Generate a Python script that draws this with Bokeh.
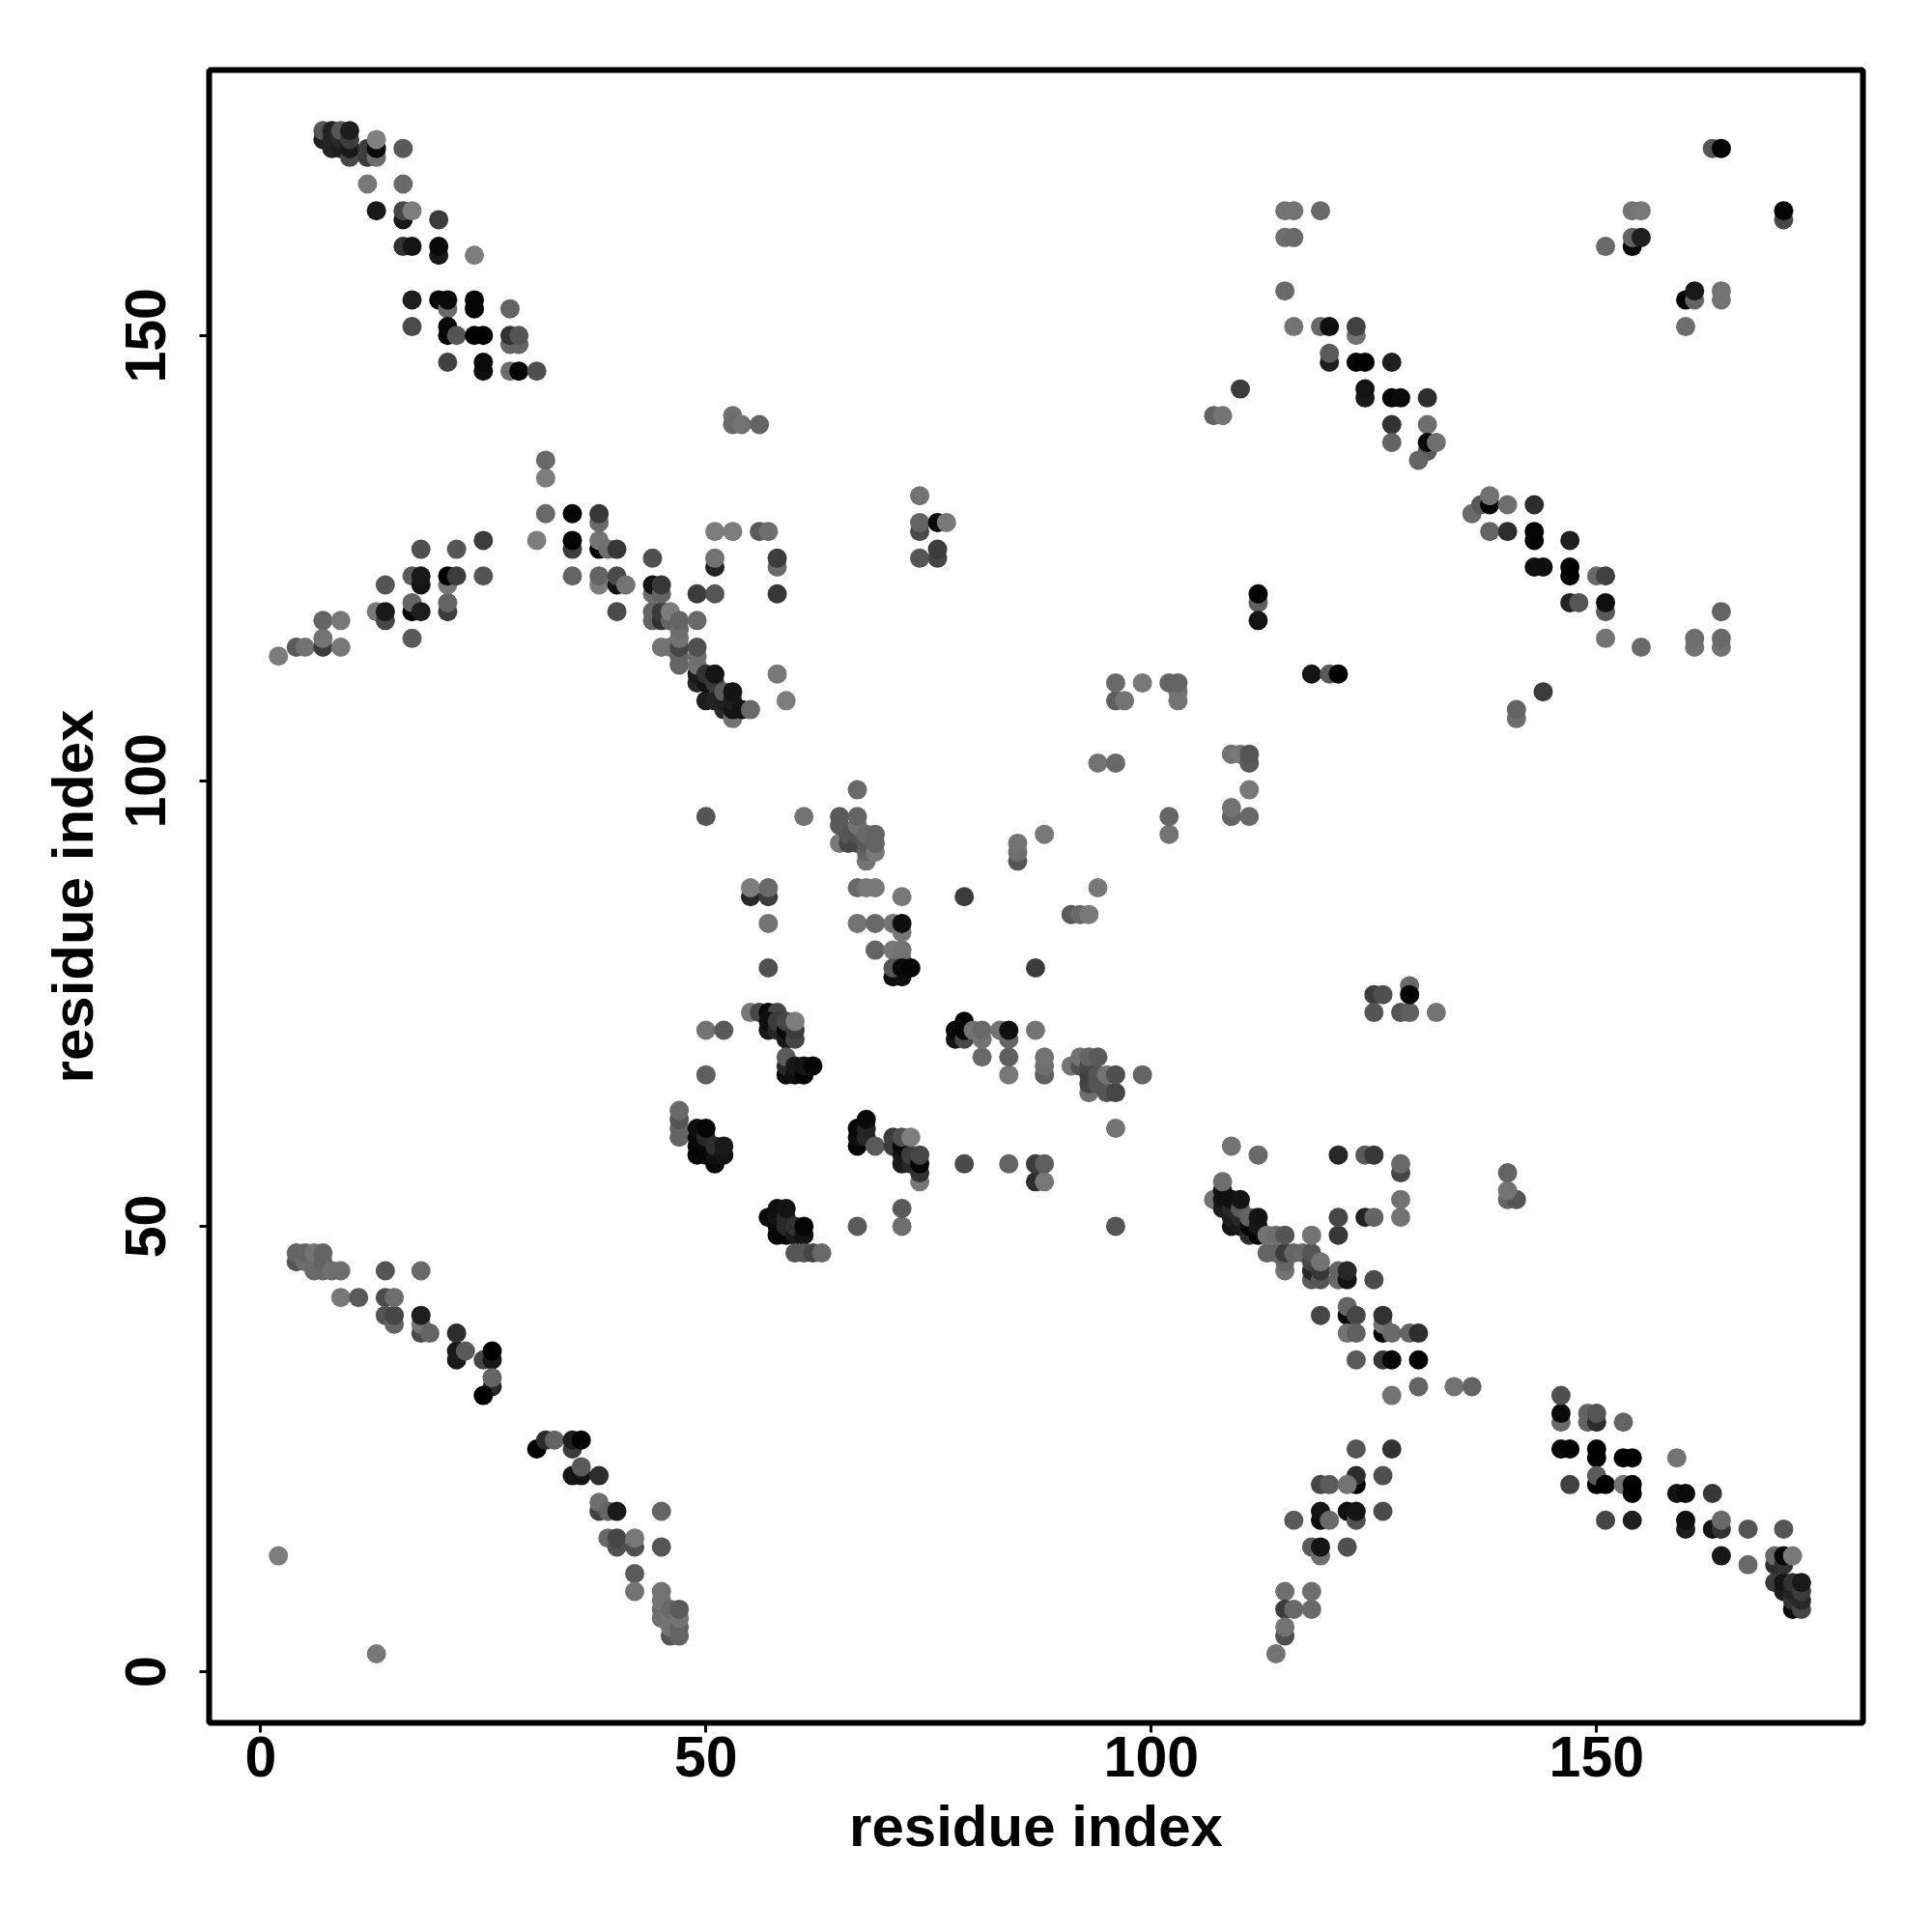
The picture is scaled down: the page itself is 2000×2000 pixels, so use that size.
from bokeh.plotting import figure
from bokeh.models import FixedTicker, Range1d
from bokeh.embed import file_html
from bokeh.resources import INLINE

tick_values = [0, 50, 100, 150]
axis_title = "residue index"

# (residue x, residue y, grey level 0-255), in drawing order
top_left = [(7,172,30),(7,173,85),(8,171,35),(8,172,35),(8,173,35),(9,171,30),(9,172,40),(9,173,85),
 (10,170,70),(10,171,25),(10,172,60),(10,173,30),(12,170,60),(12,171,60),(13,170,110),(13,171,10),(13,172,128),
 (16,171,90),(12,167,120),(16,167,105),(13,164,25),(16,163,25),(16,164,70),(17,164,125),(20,163,60),
 (16,160,50),(17,160,20),(20,159,25),(20,160,10),(24,159,125),(17,154,30),(20,154,5),(21,153,105),(21,154,10),
 (24,153,5),(24,154,5),(28,153,100),(17,151,75),(21,150,5),(21,151,5),(22,150,85),(24,150,0),(25,150,0),
 (28,149,100),(29,149,100),(28,150,50),(29,150,85),(21,147,65),(25,146,15),(25,147,10),(28,146,110),(29,146,5),(31,146,80)]

upper_band = [(2,114,125),(4,115,90),(5,115,115),(7,115,60),(7,116,115),(7,118,100),(9,115,120),(9,118,120),
 (13,119,120),(14,118,70),(14,119,25),(14,122,85),(17,116,90),(17,119,5),(17,120,100),(17,123,90),(18,119,30),
 (18,122,20),(18,123,25),(18,126,80),(21,119,60),(21,120,100),(21,122,120),(21,123,0),(22,123,60),(22,126,85),
 (25,123,85),(25,127,60),(31,127,125),(32,130,105),(32,134,125),(32,136,105),(35,123,100),(35,126,60),(35,127,5),(35,130,5),
 (38,122,125),(38,123,100),(38,126,5),(38,127,115),(38,129,105),(38,130,55),(39,126,110),(40,119,75),(40,122,20),(40,123,75),(40,126,55),
 (41,122,115),(44,118,100),(44,119,100),(44,121,110),(44,122,20),(44,125,80),(45,115,115),(45,118,50),(45,119,60),(45,121,100),(45,122,55),
 (46,115,115),(46,118,100),(46,119,125),(47,113,100),(47,114,100),(47,115,70),(47,116,115),(47,117,110),(47,118,100),
 (49,111,40),(49,112,25),(49,113,115),(49,114,110),(49,115,80),(49,118,105),(49,121,60),(50,109,30),(50,111,20),(50,112,50),
 (51,109,35),(51,111,60),(51,112,20),(51,121,85),(51,124,35),(51,125,115),(51,128,125),(52,108,40),(52,109,30),(52,110,90),
 (53,107,115),(53,108,20),(53,109,30),(53,110,20),(53,128,125),(54,108,20),(55,108,105),(56,128,90),(57,128,110),
 (58,121,55),(58,124,105),(58,125,60),(58,112,120),(59,109,125)]

upper_small = [(53,141,110),(53,140,105),(54,140,115),(56,140,100),(74,125,85),(74,128,75),(74,129,100),(74,132,115),
 (76,125,70),(76,126,60),(76,129,10),(77,129,120)]

centre_top = [(50,96,85),(61,96,115),(65,93,120),(65,95,90),(65,96,90),(66,93,70),(66,94,85),(67,93,70),(67,94,85),
 (67,95,115),(67,96,100),(67,99,105),(68,91,115),(68,92,100),(68,93,90),(68,94,105),(69,92,120),(69,93,100),(69,94,100),
 (55,87,40),(55,88,125),(57,79,80),(57,84,115),(57,87,60),(57,88,105),(67,88,105),(68,88,120),(69,88,120),(72,87,120),(79,87,60),
 (94,88,120),(91,85,90),(92,85,105),(93,85,120),(85,91,85),(85,92,110),(85,93,115),(88,94,120),(102,94,115),(102,96,100),
 (67,84,115),(69,84,105),(71,84,115),(72,83,120),(72,84,15),(69,81,100),(71,81,120),(72,81,115),(72,80,115),
 (71,78,15),(72,78,15),(71,79,85),(72,79,10),(73,79,5),(87,79,60)]

centre_mid = [(55,74,120),(56,74,70),(57,74,10),(58,74,70),(57,72,25),(57,73,15),(58,72,40),(58,73,60),(59,71,25),(59,72,10),(59,73,70),
 (60,71,70),(60,72,60),(60,73,125),(50,72,115),(52,72,90),(50,67,95),(59,67,10),(59,68,40),(59,69,90),(60,67,15),(60,68,25),
 (61,67,5),(61,68,20),(62,68,5),(47,60,100),(47,61,100),(47,62,85),(47,63,105),(49,58,10),(49,59,5),(49,60,10),(49,61,15),
 (50,58,5),(50,59,5),(50,60,40),(50,61,5),(51,57,10),(51,58,15),(51,59,45),(52,58,20),(52,59,25),
 (67,59,5),(67,60,15),(67,61,10),(68,60,40),(68,61,35),(68,62,10),(69,59,90),(71,59,60),(71,60,60),(72,57,25),(72,58,25),(72,59,10),(72,60,80),
 (73,57,40),(73,58,60),(73,60,125),(74,55,120),(74,56,50),(74,57,5),(74,58,70),(79,57,75),(84,57,100),(87,55,45),(87,57,60),(88,55,120),(88,57,95),
 (96,61,115),(96,50,85),(78,71,20),(78,72,10),(79,71,70),(79,72,5),(79,73,5),(80,72,115),(81,69,105),(81,71,115),(81,72,105),(83,72,115),
 (84,67,120),(84,69,95),(84,71,100),(84,72,15),(87,72,115),(88,67,95),(88,68,110),(88,69,115),(91,68,115),(92,68,80),(92,69,115),
 (93,65,110),(93,66,70),(93,67,65),(93,68,70),(93,69,100),(94,66,85),(94,67,85),(94,69,90),(95,65,85),(95,67,115),(96,65,70),(96,67,80),(99,67,100)]

centre_low = [(57,51,10),(58,49,5),(58,50,10),(58,51,20),(58,52,15),(59,49,5),(59,50,40),(59,51,40),(59,52,20),(60,49,25),(60,50,50),
 (61,49,20),(61,50,5),(60,47,85),(61,47,85),(62,47,70),(63,47,105),(67,50,90),(72,50,110),(72,52,90)]

mid_right = [(125,76,60),(126,76,80),(125,74,85),(128,74,85),(129,74,95),(129,77,105),(129,76,5),(132,74,115),
 (112,120,95),(112,121,0),(112,118,20),(118,112,20),(120,112,90),(121,112,0),(96,109,95),(96,111,105),(97,109,115),(99,111,120),
 (103,109,115),(103,110,115),(102,111,100),(103,111,100),(94,102,115),(96,102,105),(109,103,115),(110,103,120),(111,102,90),(111,103,85),
 (111,99,120),(109,96,100),(109,97,115),(111,96,105),(141,107,110),(141,108,100),(144,110,60),
 (140,53,100),(141,53,85),(140,54,115),(140,56,100)]

lower_right_a = [(109,59,115),(112,58,105),(121,58,40),(124,58,90),(125,58,55),(128,56,70),(128,57,105),(128,53,115),(128,51,115),
 (121,49,55),(121,51,70),(124,51,35),(125,51,100),(107,53,115),(108,52,30),(108,53,20),(108,54,15),(108,55,110),
 (109,50,20),(109,51,30),(109,52,40),(109,53,15),(110,50,25),(110,51,40),(110,52,90),(110,53,20),(111,49,45),(111,50,5),(111,51,100),
 (112,49,5),(112,50,25),(112,51,20),(113,47,100),(113,49,115),(114,47,100),(114,49,110),(115,45,115),(115,46,100),(115,47,60),(115,49,85),
 (116,47,100),(117,47,105),(118,44,90),(118,45,40),(118,46,70),(118,47,85),(118,49,115),(119,44,85),(119,45,55),(119,46,115),
 (121,44,105),(121,45,100),(122,44,20),(122,45,40),(125,44,75)]

lower_right_b = [(119,40,70),(122,40,10),(122,41,100),(123,40,70),(126,38,0),(126,39,115),(126,40,50),(127,38,105),(122,38,115),(123,38,95),
 (129,38,100),(130,38,45),(123,35,90),(126,35,55),(127,35,5),(130,35,5),(130,32,100),(127,31,115),(134,32,115),(136,32,100),
 (123,25,85),(127,25,50),(123,21,0),(123,22,45),(126,22,80),(119,21,70),(120,21,90),(122,21,115),(119,17,10),(119,18,20),(120,17,105),
 (122,18,15),(123,17,80),(123,18,20),(126,18,75),(116,17,90),(118,14,90),(119,13,110),(119,14,20),(122,14,80),
 (115,9,110),(118,9,110),(115,7,60),(116,7,105),(118,7,105),(115,4,80),(115,5,115),(114,2,115)]

lower_right_c = [(146,28,105),(146,29,10),(146,31,80),(149,28,100),(149,29,100),(150,28,45),(150,29,85),(153,28,100),(146,25,10),(147,25,5),
 (150,24,0),(150,25,0),(153,24,0),(154,24,0),(159,24,115),(147,21,65),(150,21,0),(150,22,90),(151,21,0),(153,21,115),(154,20,0),(154,21,0),
 (151,17,70),(154,17,30),(159,20,20),(160,20,10),(163,20,55),(160,16,30),(160,17,15),(163,16,20),(164,16,50),(164,17,105),(167,16,85),(171,16,85),
 (164,13,25),(167,12,105),(170,10,60),(170,12,45),(170,13,105),(171,9,30),(171,10,20),(171,12,50),(171,13,10),(172,7,10),(172,8,50),(172,9,35),(172,10,50),
 (172,13,120),(173,7,70),(173,8,40),(173,9,60),(173,10,25)]

upper_right_a = [(115,155,105),(115,161,110),(115,164,115),(116,161,105),(116,164,115),(119,164,105),(116,151,115),(119,151,105),(120,151,15),
 (120,147,30),(120,148,90),(123,150,115),(123,151,65),(123,147,5),(124,147,0),(124,143,25),(124,144,20),(127,147,30),(127,143,5),(127,140,50),(127,138,100),
 (128,143,10),(131,143,45),(131,140,110),(131,137,90),(131,138,5),(132,138,110),(130,136,100),(110,144,60),(107,141,100),(108,141,115)]

upper_right_b = [(163,171,85),(164,171,5),(154,164,115),(155,164,120),(154,160,5),(154,161,100),(155,161,30),(151,160,105),
 (171,163,70),(171,164,5),(160,154,0),(160,151,110),(161,154,100),(161,155,25),(164,154,115),(164,155,115),
 (136,130,105),(137,131,90),(138,131,5),(138,132,115),(140,131,110),(143,131,45),(138,128,100),(140,128,45),(143,127,5),(143,128,5),
 (147,127,30),(143,124,15),(144,124,15),(147,123,5),(147,124,0),(150,123,105),(151,123,65),(147,120,35),(148,120,85),(151,119,90),(151,120,15),
 (151,116,115),(155,115,105),(161,115,115),(161,116,110),(164,115,115),(164,116,105),(164,119,100)]

lower_left = [(2,13,125),(13,2,120),(4,46,85),(4,47,100),(5,46,110),(5,47,100),(6,45,105),(6,47,115),(7,45,105),(7,46,100),(7,47,100),(8,45,110),(9,45,110),(9,42,120),(11,42,90),
 (14,45,85),(14,42,75),(14,40,85),(15,39,100),(15,40,70),(15,42,110),(18,45,105),(18,38,75),(18,39,115),(18,40,30),(19,38,100),
 (22,35,25),(22,36,25),(22,38,45),(23,36,90),(25,35,70),(26,35,25),(26,36,0),(26,32,40),(26,33,100),(25,31,0),
 (31,25,0),(32,26,45),(33,26,100),(35,22,20),(35,25,60),(35,26,30),(36,22,20),(36,23,90),(36,26,5),(38,22,45),
 (38,18,65),(38,19,110),(39,18,100),(40,18,25),(45,18,100),(45,14,85),(39,15,105),(40,14,80),(40,15,70),(42,14,80),(42,15,120),(42,11,90),(42,9,115),
 (45,6,110),(45,7,110),(45,8,115),(45,9,115),(46,4,85),(46,5,115),(46,6,115),(46,7,105),(47,4,100),(47,5,100),(47,6,115),(47,7,90)]

groups = [top_left, upper_band, upper_small, centre_top, centre_mid, centre_low, mid_right,
          lower_right_a, lower_right_b, lower_right_c, upper_right_a, upper_right_b, lower_left]
points = [pt for g in groups for pt in g]
xs = [pt[0] for pt in points]
ys = [pt[1] for pt in points]
colors = ["#%02x%02x%02x" % (pt[2], pt[2], pt[2]) for pt in points]

FONT = "Liberation Sans"
p = figure(width=1968, height=1968, output_backend="svg", toolbar_location=None,
           x_range=Range1d(-5.78, 179.9), y_range=Range1d(-5.75, 179.8),
           min_border_left=216, min_border_right=40, min_border_top=72, min_border_bottom=185)
p.background_fill_color = "white"
p.border_fill_color = "white"
p.grid.visible = False
p.outline_line_color = "black"
p.outline_line_width = 6
p.scatter(xs, ys, size=20, marker="circle", fill_color=colors, line_color=None)

for ax in (p.xaxis[0], p.yaxis[0]):
    ax.ticker = FixedTicker(ticks=tick_values)
    ax.axis_label = axis_title
    ax.axis_line_color = None
    ax.major_tick_in = 0
    ax.major_tick_out = 10
    ax.major_tick_line_width = 3
    ax.major_tick_line_color = "black"
    ax.minor_tick_line_color = None
    ax.major_label_text_font = FONT
    ax.major_label_text_font_style = "bold"
    ax.major_label_text_font_size = "59px"
    ax.major_label_text_color = "black"
    ax.axis_label_text_font = FONT
    ax.axis_label_text_font_style = "bold"
    ax.axis_label_text_font_size = "60px"
    ax.axis_label_text_color = "black"
p.yaxis[0].major_label_orientation = "vertical"
p.xaxis[0].major_label_standoff = 4
p.yaxis[0].major_label_standoff = 35
p.xaxis[0].axis_label_standoff = 15
p.yaxis[0].axis_label_standoff = 19

open("out.html", "w").write(file_html(p, INLINE))
